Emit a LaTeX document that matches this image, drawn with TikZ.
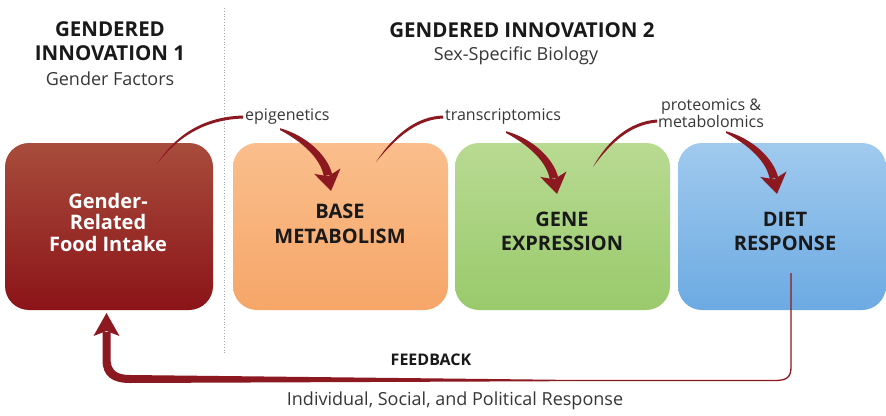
\documentclass[tikz,border=0pt]{standalone}
\usepackage{fontspec}
\setmainfont{Open Sans}
\usetikzlibrary{arrows.meta}
\definecolor{arr}{RGB}{140,24,32}
\definecolor{ink}{RGB}{25,25,25}
\definecolor{gtxt}{RGB}{55,55,55}
\definecolor{redT}{RGB}{168,76,60}
\definecolor{redB}{RGB}{139,20,24}
\definecolor{orT}{RGB}{250,190,140}
\definecolor{orB}{RGB}{246,166,104}
\definecolor{grT}{RGB}{184,218,146}
\definecolor{grB}{RGB}{154,202,108}
\definecolor{blT}{RGB}{160,202,238}
\definecolor{blB}{RGB}{108,170,226}
\tikzset{
  box/.style={rounded corners=24pt, minimum width=#1, minimum height=167pt, inner sep=0pt},
  boxtext/.style={align=center, inner sep=0pt, font=\bfseries\fontsize{20}{23.5}\selectfont, text=ink},
  head/.style={align=center, font=\bfseries\fontsize{20.5}{23.5}\selectfont, text=ink},
  sub/.style={font=\fontsize{18}{20}\selectfont, text=gtxt},
  lab/.style={font=\fontsize{16}{17}\selectfont, text=gtxt, inner sep=0pt},
  tarrow/.pic={
    \fill[arr] (0,-0.8) .. controls (26.3,6.5) and (47.4,26.2) .. (52.2,45.4)
       -- (43.8,47.2) .. controls (40.6,29.8) and (23.5,13.5) .. (0,1.0) -- cycle;
    \fill[arr] (51,62) -- (60.5,39.5) -- (48.2,47.3) -- (34.2,44.9) -- cycle;
  },
}
\begin{document}
\begin{tikzpicture}[x=1pt,y=-1pt]
\useasboundingbox (0,0) rectangle (886,415);
\fill[white] (0,0) rectangle (886,415);
% divider
\draw[gray!70, dotted, line width=0.8pt] (224,8) -- (224,355);
% headers
\node[head] (h1) at (110,41) {GENDERED\\INNOVATION 1};
\node[sub] (s1) at (110,79) {Gender Factors};
\node[head] (h2) at (522,30) {GENDERED INNOVATION 2};
\node[sub] (s2) at (516,56) {Sex-Specific Biology};
% boxes
\node[box=208pt, top color=redT, bottom color=redB] (food) at (109,226.5) {};
\node[box=215pt, top color=orT, bottom color=orB] (base) at (340.5,226.5) {};
\node[box=215pt, top color=grT, bottom color=grB] (gene) at (562.5,226.5) {};
\node[box=208pt, top color=blT, bottom color=blB] (diet) at (782,226.5) {};
\node[boxtext, text=white, font=\bfseries\fontsize{20}{21.5}\selectfont] (foodt) at (108,222) {Gender-\\Related\\Food Intake};
\node[boxtext, font=\bfseries\fontsize{20}{25}\selectfont] (baset) at (340,224) {BASE\\METABOLISM};
\node[boxtext] (genet) at (562,231.5) {GENE\\EXPRESSION};
\node[boxtext] (dietiest) at (785,231.5) {DIET\\RESPONSE};
% labels
\node[lab, anchor=west] (epi) at (245,117) {epigenetics};
\node[lab, anchor=west] (tra) at (445,117) {transcriptomics};
\node[lab, align=center] (pro) at (711,113.5) {proteomics \&\\metabolomics};
% thin tapered curves
\fill[arr] (157,164) .. controls (180,128) and (212,116.5) .. (243,115.5) -- (243,118.5) .. controls (213,119.5) and (183,130) .. (157,164) -- cycle;
\fill[arr] (376,162) .. controls (396,132) and (418,116.5) .. (443,115.5) -- (443,118.5) .. controls (419,119.5) and (399,134) .. (376,162) -- cycle;
\fill[arr] (593,167) .. controls (608,140) and (630,121.5) .. (657,119.5) -- (657,122.5) .. controls (631,124.5) and (611,142) .. (593,167) -- cycle;
% big arrows (label -> box)
\coordinate (a1) at (280,129);
\coordinate (a2) at (506,132);
\coordinate (a3) at (726,132);
\pic at (a1) {tarrow};
\pic at (a2) {tarrow};
\pic at (a3) {tarrow};
% feedback
\coordinate (fstart) at (791,273);
\coordinate (ftip) at (106.5,313);
\draw[arr, line width=1.3pt] (fstart) -- (791,367) .. controls (791,377) and (787,380.5) .. (775,380.5) -- (560,380.5);
\fill[arr] (560,379.8) -- (560,381.2) -- (130,383) .. controls (112,383) and (102.5,376) .. (102.5,360) -- (102.5,332)
   -- (110.5,332) -- (110.5,358) .. controls (110.5,370) and (116,375) .. (130,375) -- cycle;
\fill[arr] (ftip) -- (119.5,336) -- (106.5,331) -- (93.5,336) -- cycle;
\node[font=\bfseries\fontsize{16}{18}\selectfont, text=ink] (fb) at (431,360) {FEEDBACK};
\node[sub] (resp) at (455,401) {Individual, Social, and Political Response};
\end{tikzpicture}
\end{document}
